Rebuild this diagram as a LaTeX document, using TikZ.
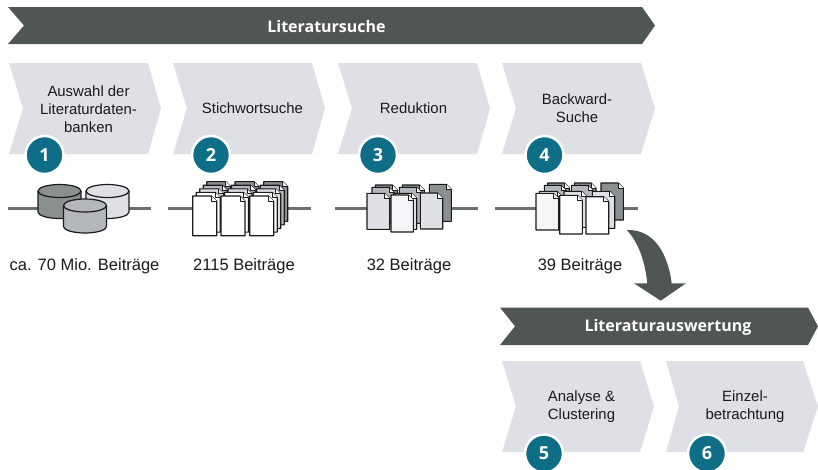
\documentclass[tikz,border=0pt]{standalone}
\usepackage{fontspec}
\setmainfont{Liberation Sans}
\newfontfamily\headfont{Open Sans}
\definecolor{bannerc}{HTML}{505655}
\definecolor{chevc}{HTML}{DFE0E5}
\definecolor{circc}{HTML}{0F6E87}
\definecolor{linec}{HTML}{6B6F6E}
\definecolor{darkg}{HTML}{8A8F90}
\definecolor{midg}{HTML}{B4B7BC}
\definecolor{paleg}{HTML}{F4F5F7}
\definecolor{inkc}{HTML}{1A1A1A}
\tikzset{
  bannerbox/.style={fill=bannerc,draw=none},
  chevbox/.style={fill=chevc,draw=none},
  numdisc/.style={circle,fill=circc,draw=white,line width=2.5pt,minimum size=38pt,inner sep=0pt,text=white,font=\headfont\bfseries\fontsize{18}{18}\selectfont},
  steplabel/.style={align=center,text=inkc,font=\fontsize{14.9}{18}\selectfont,inner sep=0pt},
  countlabel/.style={text=inkc,font=\fontsize{16.5}{17}\selectfont,inner sep=0pt},
  headlabel/.style={text=white,font=\headfont\bfseries\fontsize{16}{17}\selectfont,inner sep=0pt},
  rowline/.style={draw=linec,line width=3pt},
  sheet/.style={draw=inkc,line width=1.1pt,line join=round},
  drum/.style={draw=inkc,line width=1.2pt},
}
\newcommand{\chev}[6]{\fill[chevbox] (#1,#2) -- (#4,#2) -- (#5,{(#2+#3)/2}) -- (#4,#3) -- (#1,#3) -- (#6,{(#2+#3)/2}) -- cycle;}
\newcommand{\banner}[6]{\fill[bannerbox] (#1,#2) -- (#4,#2) -- (#5,{(#2+#3)/2}) -- (#4,#3) -- (#1,#3) -- (#6,{(#2+#3)/2}) -- cycle;}
\newcommand{\sheetat}[5]{%
  \filldraw[sheet,fill=#5] (#1,#2) -- ({#1+#3-5},#2) -- ({#1+#3},{#2+5}) -- ({#1+#3},{#2+#4}) -- (#1,{#2+#4}) -- cycle;
  \filldraw[sheet,fill=white,line width=.7pt] ({#1+#3-5},#2) -- ({#1+#3-5},{#2+5}) -- ({#1+#3},{#2+5});}
\newcommand{\drumat}[5]{%
  \filldraw[drum,fill=#5] (#1,#3) -- (#1,#4) arc[start angle=180,end angle=360,x radius={(#2-#1)/2},y radius=-6.5] -- (#2,#3);
  \filldraw[drum,fill=#5] ({(#1+#2)/2},#3) ellipse[x radius={(#2-#1)/2},y radius=6.5];}
\begin{document}
\begin{tikzpicture}[x=1pt,y=-1pt]
\useasboundingbox (0,0) rectangle (818,469);
\fill[white] (0,0) rectangle (818,469);
\clip (0,0) rectangle (818,469);

\banner{8}{7}{44}{642}{655}{24}
\node[headlabel] (h1) at (326.5,26.5) {Literatursuche};
\banner{500}{307.5}{345}{808}{818}{515}
\node[headlabel] (h2) at (668,327.5) {Literaturauswertung};

\chev{9}{63}{154}{148}{161}{23}
\chev{173}{63}{154}{312}{325}{187}
\chev{338}{63}{154}{477}{490}{352}
\chev{502}{63}{154}{641}{655}{516}
\chev{502}{361}{452}{640}{654}{516}
\chev{666}{361}{452}{803}{818}{679}

\node[steplabel] (s1) at (88.5,109.5) {Auswahl der\\Literaturdaten-\\banken};
\node[steplabel] (s2) at (252.5,108.5) {Stichwortsuche};
\node[steplabel] (s3) at (413.5,108.5) {Reduktion};
\node[steplabel] (s4) at (577,108.5) {Backward-\\Suche};
\node[steplabel] (s5) at (581.5,407) {Analyse \&\\Clustering};
\node[steplabel] (s6) at (745,407) {Einzel-\\betrachtung};

\node[numdisc] (n1) at (44.5,155) {1};
\node[numdisc] (n2) at (211,155) {2};
\node[numdisc] (n3) at (378,155) {3};
\node[numdisc] (n4) at (544.5,155) {4};
\node[numdisc] (n5) at (544,453.5) {5};
\node[numdisc] (n6) at (707,453.5) {6};

\coordinate (la) at (8,208.7); \coordinate (lb) at (151,208.7);
\coordinate (lc) at (168,208.7); \coordinate (ld) at (311,208.7);
\coordinate (le) at (335,208.7); \coordinate (lf) at (478,208.7);
\coordinate (lg) at (495,208.7); \coordinate (lh) at (638,208.7);
\draw[rowline] (la) -- (lb);
\draw[rowline] (lc) -- (ld);
\draw[rowline] (le) -- (lf);
\draw[rowline] (lg) -- (lh);

\drumat{38}{81}{191}{212}{darkg}
\drumat{86}{129}{191}{212}{chevc}
\drumat{63.5}{106.5}{205.5}{226.5}{midg}

\foreach \cx in {192.7,221,249.7}{
  \foreach \k/\c in {4/darkg,3/midg,2/chevc,1/white}{
    \sheetat{\cx+\k*3.5}{196-\k*3.6}{24}{39.7}{\c}
  }
  \sheetat{\cx}{196}{24}{39.7}{white}
}

\sheetat{375.3}{185}{22}{36}{darkg}
\sheetat{372}{187.3}{22}{36}{midg}
\sheetat{367}{193.3}{22.7}{36}{chevc}
\sheetat{402.3}{185}{22}{36}{darkg}
\sheetat{399.3}{187.3}{22}{36}{midg}
\sheetat{429.3}{184.3}{22}{37}{darkg}
\sheetat{394}{193.3}{22.7}{36}{chevc}
\sheetat{391}{195}{22.3}{37}{paleg}
\sheetat{420.3}{193}{22.4}{36}{chevc}

\sheetat{547.7}{183}{21.7}{36}{darkg}
\sheetat{544.3}{185.3}{21.7}{36}{midg}
\sheetat{574.3}{183}{21.7}{36}{darkg}
\sheetat{571.3}{185.3}{21.7}{36}{midg}
\sheetat{601}{183}{22.3}{37}{darkg}
\sheetat{539.3}{191.3}{22.7}{36}{chevc}
\sheetat{536}{193.3}{22.7}{36.7}{paleg}
\sheetat{592.3}{191.3}{22.4}{37}{chevc}
\sheetat{564}{191.3}{22.7}{36}{chevc}
\sheetat{559.7}{195.3}{22.6}{38.7}{white}
\sheetat{586}{196.7}{22.7}{37.3}{white}

\fill[bannerc] (626.7,230) .. controls (655,229) and (668,255) .. (671.7,283.3)
  -- (686,283.3) -- (660.7,300.7) -- (634,283.3) -- (647.3,283.3)
  .. controls (645,262) and (639,243) .. cycle;

\node[countlabel] (c1) at (84.5,266) {ca. 70 Mio. Beiträge};
\node[countlabel] (c2) at (244,266) {2115 Beiträge};
\node[countlabel] (c3) at (409,266) {32 Beiträge};
\node[countlabel] (c4) at (580,266) {39 Beiträge};
\end{tikzpicture}
\end{document}
